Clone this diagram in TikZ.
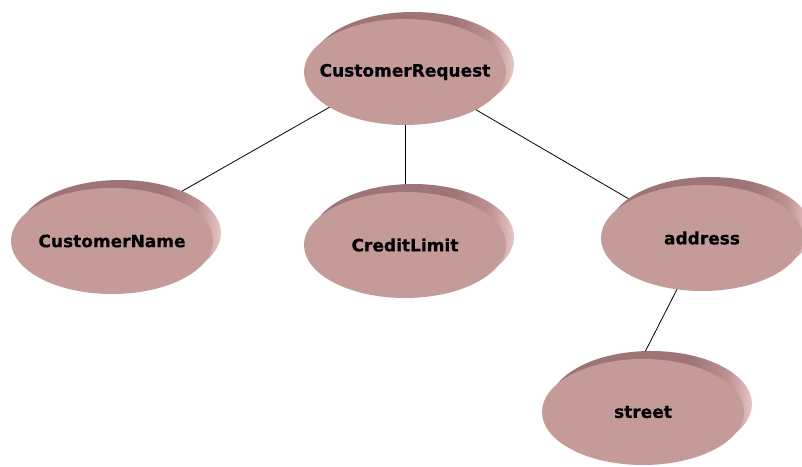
\documentclass[tikz,border=0pt]{standalone}
\usepackage{fontspec}
\setmainfont{DejaVu Sans}
\newfontface\heavyfont{DejaVu Sans Bold}[FakeBold=0.6]
\usetikzlibrary{shapes.geometric}
\definecolor{ellfront}{RGB}{196,155,153}
\definecolor{ellrimdark}{RGB}{158,116,118}
\definecolor{ellrimmid}{RGB}{190,146,147}
\definecolor{ellrimlight}{RGB}{232,196,197}
% rim of each disc: dark along most of its width, lighter at the right end
\pgfdeclarehorizontalshading{rimshade}{100bp}{color(0bp)=(ellrimdark); color(25bp)=(ellrimdark); color(60bp)=(ellrimdark); color(69bp)=(ellrimmid); color(75bp)=(ellrimlight); color(100bp)=(ellrimlight)}
\tikzset{
  disc/.style={ellipse, minimum width=202pt, minimum height=106pt, inner sep=0pt, outer sep=0pt},
  front/.style={disc, fill=ellfront, label={[font=\fontsize{17}{20}\heavyfont]center:#1}},
  rim/.style={disc, shading=rimshade},
  link/.style={draw=black, line width=0.8pt}
}
\begin{document}
\begin{tikzpicture}[x=1pt,y=-1pt]
  \useasboundingbox (0,0) rectangle (802,466);
  \clip (0,0) rectangle (802,466);
  \fill[white] (0,0) rectangle (802,466);

  % root
  \node[rim]   (crb) at (413,65)  {};
  \node[front=CustomerRequest] (cr) at (405,72) {};
  % children
  \node[rim]   (cnb) at (120,233) {};
  \node[front=CustomerName] (cn) at (112,241) {};
  \node[rim]   (clb) at (413,237) {};
  \node[front=CreditLimit] (cl) at (405,245) {};
  \node[rim]   (adb) at (710,230) {};
  \node[front=address] (ad) at (702,238) {};
  % grandchild
  \node[rim]   (stb) at (651,404) {};
  \node[front=street] (st) at (643,412) {};

  % tree edges
  \draw[link] (cr.205) -- (cnb.34);
  \draw[link] (cr.south) -- (cr.south |- clb.99);
  \draw[link] (cr.332) -- (adb.159);
  \draw[link] (ad.244) -- (stb.96);
\end{tikzpicture}
\end{document}
